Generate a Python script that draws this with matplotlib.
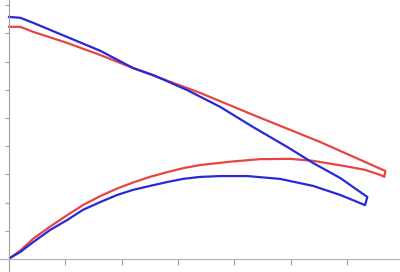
import matplotlib
matplotlib.use("Agg")
import matplotlib.pyplot as plt

# red loop: lower branch out, upper branch back
red_x = [0.02, 0.20, 0.43, 0.73, 1.03, 1.31, 1.62, 1.92, 2.20, 2.50, 2.81, 3.09, 3.39, 3.93,
         4.46, 4.99, 5.40, 6.00, 6.32, 6.59, 6.66,
         6.68, 5.52, 4.33, 3.39, 2.20, 1.62, 1.03, 0.43, 0.20, 0.00]
red_y = [0.04, 0.30, 0.72, 1.15, 1.55, 1.91, 2.23, 2.50, 2.71, 2.91, 3.08, 3.22, 3.33, 3.45,
         3.54, 3.55, 3.48, 3.28, 3.16, 2.98, 2.91,
         3.12, 4.15, 5.11, 5.89, 6.77, 7.23, 7.66, 8.05, 8.23, 8.23]

# blue loop
blue_x = [0.02, 0.20, 0.43, 0.73, 1.03, 1.31, 1.62, 1.92, 2.20, 2.50, 2.81, 3.09, 3.39, 3.75,
          4.23, 4.81, 5.40, 5.88, 6.32,
          6.36, 6.23, 5.88, 5.40, 4.94, 4.33, 3.75, 3.16, 2.56, 2.20, 1.62, 1.03, 0.43, 0.20, 0.00]
blue_y = [0.04, 0.25, 0.60, 1.03, 1.38, 1.74, 2.02, 2.27, 2.45, 2.59, 2.73, 2.84, 2.91, 2.94,
          2.94, 2.84, 2.59, 2.27, 1.91,
          2.20, 2.38, 2.87, 3.40, 3.97, 4.68, 5.39, 5.99, 6.52, 6.77, 7.38, 7.87, 8.37, 8.55, 8.58]

x_ticks = [0, 1, 2, 3, 4, 5, 6]
y_ticks = [0, 1, 2, 3, 4, 5, 6, 7, 8, 9]

fig = plt.figure(figsize=(4, 2.72), dpi=100)
ax = fig.add_axes([0, 0, 1, 1])

ax.plot(red_x, red_y, color="#e84444", lw=1.6, solid_joinstyle="round")
ax.plot(blue_x, blue_y, color="#2828d8", lw=1.6, solid_joinstyle="round")

ax.set_xlim(-0.16, 6.94)
ax.set_ylim(-0.46, 9.18)

ax.spines["top"].set_visible(False)
ax.spines["right"].set_visible(False)
ax.spines["left"].set_position(("data", 0))
ax.spines["bottom"].set_position(("data", 0))
ax.spines["left"].set_color("#a0a0a0")
ax.spines["bottom"].set_color("#b0b0b0")
ax.spines["bottom"].set_linestyle((0, (1, 1)))

ax.set_xticks(x_ticks)
ax.set_yticks(y_ticks)
ax.set_xticklabels([])
ax.set_yticklabels([])
ax.tick_params(axis="x", direction="out", length=4, color="#a0a0a0")
ax.tick_params(axis="y", direction="out", length=3, color="#a0a0a0")

fig.savefig("out.png", dpi=100)
